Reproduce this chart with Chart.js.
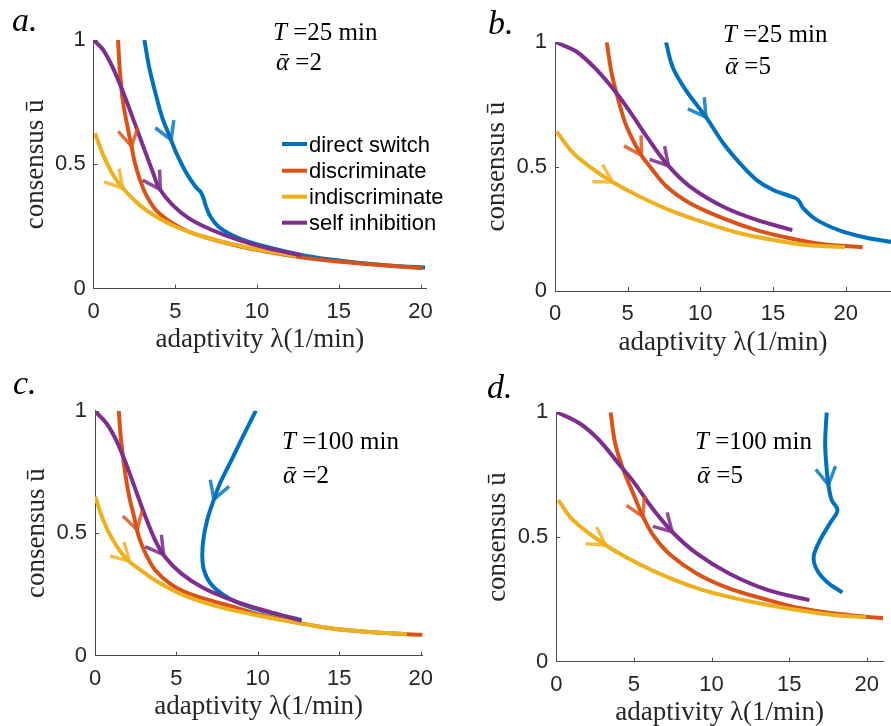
<!DOCTYPE html>
<html><head><meta charset="utf-8">
<script src="https://cdn.jsdelivr.net/npm/chart.js@4/dist/chart.umd.min.js"></script>
<style>
html,body{margin:0;padding:0;background:#fff;}
#wrap{position:relative;width:891px;height:726px;overflow:hidden;background:#fff;}
canvas{position:absolute;}
</style></head><body><div id="wrap">
<canvas id="ca" width="445" height="363" style="left:0;top:0"></canvas>
<canvas id="cb" width="446" height="363" style="left:445px;top:0"></canvas>
<canvas id="cc" width="445" height="363" style="left:0;top:363px"></canvas>
<canvas id="cd" width="446" height="363" style="left:445px;top:363px"></canvas>
</div>
<script>
// ---------- data ----------
const seriesNames = ['direct switch', 'discriminate', 'indiscriminate', 'self inhibition'];
const xTicks = [0, 5, 10, 15, 20];
const yTicks = [0, 0.5, 1];
const panelLetters = ['a.', 'b.', 'c.', 'd.'];
const periodT = ['25', '25', '100', '100'];
const alphaBar = ['2', '5', '2', '5'];
const xMax = [20.35, 23.12, 20.1, 21.05];
const xTitle = 'adaptivity λ(1/min)';
const yTitle = 'consensus ū';

// panel a: T=25, alpha=2
const aDirect = [[3.1,1.0],[3.41,0.886],[3.81,0.779],[4.21,0.685],[4.62,0.618],[5.02,0.551],[5.63,0.47],[6.23,0.41],[6.53,0.39],[6.73,0.363],[6.84,0.337],[7.14,0.29],[7.64,0.249],[8.45,0.216],[9.46,0.189],[10.67,0.167],[12.48,0.139],[14.5,0.117],[16.5,0.102],[18.5,0.091],[20.28,0.085]];
const aDiscr = [[1.49,1.0],[1.59,0.886],[1.79,0.752],[2.09,0.645],[2.3,0.578],[2.5,0.511],[2.8,0.444],[3.21,0.377],[3.81,0.316],[4.82,0.263],[5.83,0.229],[6.84,0.207],[8.45,0.178],[10.46,0.15],[12.48,0.128],[14.5,0.112],[16.5,0.1],[18.5,0.09],[20.14,0.082]];
const aIndis = [[0.08,0.625],[0.58,0.538],[1.19,0.457],[1.79,0.404],[2.8,0.337],[3.81,0.29],[5.02,0.249],[6.43,0.215],[8.25,0.183],[10.67,0.15],[12.4,0.132]];
const aSelf  = [[0.04,0.997],[0.58,0.96],[1.19,0.886],[1.79,0.792],[2.4,0.685],[3.0,0.578],[3.61,0.47],[4.01,0.404],[4.82,0.337],[5.83,0.283],[7.24,0.236],[8.85,0.196],[10.67,0.162],[12.72,0.135]];
const aArrows = [[4.62,0.595],[2.2,0.571],[1.79,0.404],[3.91,0.39]];

// panel b: T=25, alpha=5
const bDirect = [[7.64,1.0],[8.1,0.9],[9.0,0.808],[10.37,0.701],[11.58,0.594],[12.73,0.513],[13.88,0.446],[15.02,0.406],[16.4,0.377],[16.74,0.366],[17.09,0.332],[18.0,0.286],[19.61,0.243],[21.44,0.214],[23.2,0.197]];
const bDiscr = [[3.56,1.0],[3.9,0.875],[4.36,0.768],[4.93,0.661],[5.85,0.554],[6.54,0.5],[7.68,0.42],[9.29,0.353],[11.58,0.292],[13.88,0.245],[16.17,0.212],[18.46,0.188],[21.17,0.176]];
const bIndis = [[0.11,0.641],[1.26,0.554],[2.5,0.495],[3.9,0.44],[5.85,0.379],[8.14,0.319],[10.44,0.272],[12.73,0.232],[15.02,0.205],[17.32,0.185],[19.95,0.176]];
const bSelf  = [[0.07,1.0],[1.49,0.962],[2.87,0.889],[4.24,0.795],[5.39,0.701],[6.31,0.621],[7.75,0.507],[9.29,0.42],[11.58,0.339],[13.88,0.286],[16.33,0.245]];
const bArrows = [[10.37,0.698],[6.0,0.547],[3.97,0.44],[7.75,0.5]];

// panel c: T=100, alpha=2
const cDirect = [[9.88,1.0],[9.08,0.894],[8.28,0.785],[7.68,0.704],[7.29,0.636],[6.89,0.554],[6.65,0.472],[6.59,0.404],[6.69,0.35],[7.08,0.296],[7.88,0.248],[8.88,0.214],[10.48,0.18],[12.68,0.146]];
const cDiscr = [[1.46,1.0],[1.6,0.88],[1.8,0.771],[2.06,0.663],[2.4,0.567],[2.69,0.486],[3.1,0.418],[3.69,0.35],[4.69,0.29],[5.89,0.25],[7.29,0.222],[8.68,0.196],[10.08,0.168],[12.78,0.131],[14.67,0.11],[16.67,0.098],[19.16,0.088],[20.16,0.085]];
const cIndis = [[0.02,0.649],[0.5,0.554],[1.1,0.472],[1.9,0.397],[2.89,0.345],[3.69,0.308],[4.69,0.27],[5.69,0.24],[7.68,0.198],[10.08,0.163],[12.78,0.13],[14.67,0.11],[16.67,0.098],[19.16,0.088]];
const cSelf  = [[0.02,0.996],[0.7,0.949],[1.3,0.88],[1.9,0.785],[2.5,0.676],[3.1,0.567],[3.69,0.472],[4.29,0.404],[5.29,0.336],[6.69,0.275],[8.68,0.22],[10.68,0.18],[12.68,0.143]];
const cArrows = [[7.38,0.636],[2.59,0.513],[2.1,0.385],[3.99,0.404]];

// panel d: T=100, alpha=5
const dDirect = [[17.42,1.0],[17.32,0.876],[17.42,0.769],[17.53,0.709],[17.74,0.648],[18.11,0.608],[17.63,0.555],[17.0,0.488],[16.58,0.421],[16.79,0.368],[17.42,0.321],[18.43,0.277]];
const dDiscr = [[3.5,1.0],[3.79,0.876],[4.32,0.769],[4.95,0.675],[5.58,0.582],[6.31,0.501],[7.36,0.428],[9.04,0.354],[11.13,0.294],[13.65,0.247],[15.74,0.214],[17.84,0.194],[19.94,0.18],[21.1,0.174]];
const dIndis = [[0.13,0.648],[1.07,0.568],[3.17,0.468],[5.26,0.394],[7.36,0.334],[9.45,0.287],[11.55,0.254],[13.65,0.227],[15.74,0.205],[17.84,0.187],[19.94,0.178]];
const dSelf  = [[0.06,1.0],[1.49,0.956],[2.75,0.889],[4.0,0.795],[5.05,0.715],[6.1,0.622],[7.46,0.521],[9.04,0.434],[11.13,0.354],[13.65,0.287],[16.31,0.247]];
const dArrows = [[17.53,0.709],[5.58,0.582],[3.17,0.468],[7.46,0.521]];

// ---------- styles ----------
const COLORS = ['#0072BD', '#D95319', '#EDB120', '#7E2F8E'];
const ARROW_COLORS = ['rgba(0,114,189,0.82)', 'rgba(217,83,25,0.82)', 'rgba(237,177,32,0.82)', 'rgba(126,47,142,0.88)'];
const AXIS = '#4a4a4a';
const SANS = '"Liberation Sans", Arial, sans-serif';
const SERIF = '"Liberation Serif", "Times New Roman", serif';

const panels = [
  {id:'ca', series:[aDirect,aDiscr,aIndis,aSelf], arrows:aArrows, yW:93.7, xH:74.3, top:40, right:15, xtPad:9.5, ytPad:22,
   letter:[12,31], tLine:[273,40], aLine:[276,70], legend:true},
  {id:'cb', series:[bDirect,bDiscr,bIndis,bSelf], arrows:bArrows, yW:110, xH:72, top:42.3, right:0, xtPad:6.5, ytPad:38.5,
   letter:[43,34], tLine:[278,41.5], aLine:[280,74]},
  {id:'cc', series:[cDirect,cDiscr,cIndis,cSelf], arrows:cArrows, yW:95, xH:70.3, top:47.7, right:14.3, xtPad:5.5, ytPad:23,
   letter:[13,30.5], tLine:[282,86], aLine:[283,120]},
  {id:'cd', series:[dDirect,dDiscr,dIndis,dSelf], arrows:dArrows, yW:111.3, xH:64.3, top:49.3, right:0, xtPad:0, ytPad:39,
   letter:[42,35], tLine:[250,86], aLine:[252,120]}
];

// ---------- plugins ----------
const inwardTicks = {
  id: 'inwardTicks',
  beforeDatasetsDraw(chart) {
    const {ctx, chartArea: a, scales: {x, y}} = chart;
    ctx.save();
    ctx.strokeStyle = AXIS; ctx.lineWidth = 1;
    ctx.beginPath();
    xTicks.forEach(v => {
      const px = Math.round(x.getPixelForValue(v)) + 0.5;
      if (px > a.left + 2 && px <= a.right) { ctx.moveTo(px, a.bottom); ctx.lineTo(px, a.bottom - 4); }
    });
    yTicks.forEach(v => {
      const py = Math.round(y.getPixelForValue(v)) + 0.5;
      if (py < a.bottom - 2) { ctx.moveTo(a.left, py); ctx.lineTo(a.left + 4, py); }
    });
    ctx.stroke();
    ctx.restore();
  }
};

function tangentAt(P, k) {
  const i0 = Math.max(0, k - 1), i1 = Math.min(P.length - 1, k + 1);
  const dx = P[i1][0] - P[i0][0], dy = P[i1][1] - P[i0][1];
  const L = Math.hypot(dx, dy) || 1;
  return [dx / L, dy / L];
}

const arrowHeads = {
  id: 'arrowHeads',
  afterDatasetsDraw(chart, args, opts) {
    const {ctx, scales: {x, y}} = chart;
    const spec = opts.spec;
    ctx.save();
    ctx.lineWidth = 3.5; ctx.lineJoin = 'miter'; ctx.lineCap = 'butt';
    spec.series.forEach((pts, s) => {
      const P = pts.map(p => [x.getPixelForValue(p[0]), y.getPixelForValue(p[1])]);
      const A = [x.getPixelForValue(spec.arrows[s][0]), y.getPixelForValue(spec.arrows[s][1])];
      let best = 1e9, foot = A, dir = [0, 1];
      for (let i = 0; i < P.length - 1; i++) {
        const vx = P[i+1][0] - P[i][0], vy = P[i+1][1] - P[i][1];
        const L2 = vx*vx + vy*vy || 1;
        let t = ((A[0]-P[i][0])*vx + (A[1]-P[i][1])*vy) / L2;
        t = Math.max(0, Math.min(1, t));
        const fx = P[i][0] + t*vx, fy = P[i][1] + t*vy;
        const d = Math.hypot(A[0]-fx, A[1]-fy);
        if (d < best) {
          best = d; foot = [fx, fy];
          const t0 = tangentAt(P, i), t1 = tangentAt(P, i+1);
          const dx = (1-t)*t0[0] + t*t1[0], dy = (1-t)*t0[1] + t*t1[1];
          const L = Math.hypot(dx, dy) || 1;
          dir = [dx/L, dy/L];
        }
      }
      const bx = -dir[0], by = -dir[1], len = 20, ang = Math.PI / 6;
      const w1 = [bx*Math.cos(ang) - by*Math.sin(ang), bx*Math.sin(ang) + by*Math.cos(ang)];
      const w2 = [bx*Math.cos(-ang) - by*Math.sin(-ang), bx*Math.sin(-ang) + by*Math.cos(-ang)];
      ctx.strokeStyle = ARROW_COLORS[s];
      ctx.beginPath();
      ctx.moveTo(foot[0] + w1[0]*len, foot[1] + w1[1]*len);
      ctx.lineTo(foot[0], foot[1]);
      ctx.lineTo(foot[0] + w2[0]*len, foot[1] + w2[1]*len);
      ctx.stroke();
    });
    ctx.restore();
  }
};

const annotations = {
  id: 'annotations',
  afterDraw(chart, args, opts) {
    const ctx = chart.ctx, spec = opts.spec, i = opts.index;
    ctx.save();
    ctx.fillStyle = '#000'; ctx.textBaseline = 'alphabetic'; ctx.textAlign = 'left';
    ctx.font = 'italic 34px ' + SERIF;
    ctx.fillText(panelLetters[i], spec.letter[0], spec.letter[1]);
    ctx.font = 'italic 25px ' + SERIF;
    ctx.fillText('T', spec.tLine[0], spec.tLine[1]);
    let w = ctx.measureText('T').width;
    ctx.font = '25px ' + SERIF;
    ctx.fillText(' =' + periodT[i] + ' min', spec.tLine[0] + w, spec.tLine[1]);
    ctx.font = 'italic 25px ' + SERIF;
    ctx.fillText('ᾱ', spec.aLine[0], spec.aLine[1]);
    w = ctx.measureText('ᾱ').width;
    ctx.font = '25px ' + SERIF;
    ctx.fillText(' =' + alphaBar[i], spec.aLine[0] + w, spec.aLine[1]);
    if (spec.legend) {
      const ys = [144, 170.7, 196.7, 222.7];
      seriesNames.forEach((name, s) => {
        ctx.strokeStyle = COLORS[s]; ctx.lineWidth = 4; ctx.lineCap = 'butt';
        ctx.beginPath(); ctx.moveTo(282, ys[s]); ctx.lineTo(307, ys[s]); ctx.stroke();
        ctx.fillStyle = '#000';
        ctx.font = '22px ' + SANS;
        ctx.fillText(name, 309, ys[s] + 7.5);
      });
    }
    ctx.restore();
  }
};

// ---------- charts ----------
panels.forEach((spec, idx) => {
  const datasets = spec.series.map((pts, s) => ({
    label: seriesNames[s],
    data: pts.map(p => ({x: p[0], y: p[1]})),
    borderColor: COLORS[s],
    backgroundColor: COLORS[s],
    borderWidth: 4,
    pointRadius: 0,
    tension: 0.35,
    fill: false,
    showLine: true,
    order: 4 - s
  }));
  new Chart(document.getElementById(spec.id), {
    type: 'scatter',
    data: {datasets},
    plugins: [inwardTicks, arrowHeads, annotations],
    options: {
      responsive: false,
      animation: false,
      devicePixelRatio: 1,
      events: [],
      layout: {padding: {left: 0, top: spec.top, right: spec.right, bottom: 0}},
      plugins: {
        legend: {display: false},
        tooltip: {enabled: false},
        arrowHeads: {spec},
        annotations: {spec, index: idx}
      },
      scales: {
        x: {
          type: 'linear', min: 0, max: xMax[idx],
          afterBuildTicks: sc => { sc.ticks = xTicks.map(v => ({value: v})); },
          afterFit: sc => { sc.height = spec.xH; },
          grid: {display: false, drawTicks: false},
          border: {display: true, color: AXIS, width: 1},
          ticks: {padding: 12, autoSkip: false, maxRotation: 0, color: '#262626',
                  font: {family: SANS, size: 22, lineHeight: 1}, callback: v => String(v)},
          title: {display: true, text: xTitle, color: '#262626', font: {family: SERIF, size: 27, lineHeight: 1}, padding: {top: 0, bottom: spec.xtPad}}
        },
        y: {
          type: 'linear', min: 0, max: 1,
          afterBuildTicks: sc => { sc.ticks = yTicks.map(v => ({value: v})); },
          afterFit: sc => { sc.width = spec.yW; },
          grid: {display: false, drawTicks: false},
          border: {display: true, color: AXIS, width: 1},
          ticks: {padding: 8, autoSkip: false, color: '#262626',
                  font: {family: SANS, size: 22, lineHeight: 1}, callback: v => String(v)},
          title: {display: true, text: yTitle, color: '#262626', font: {family: SERIF, size: 27, lineHeight: 1}, padding: {top: spec.ytPad, bottom: 0}}
        }
      }
    }
  });
});
</script>
</body></html>
